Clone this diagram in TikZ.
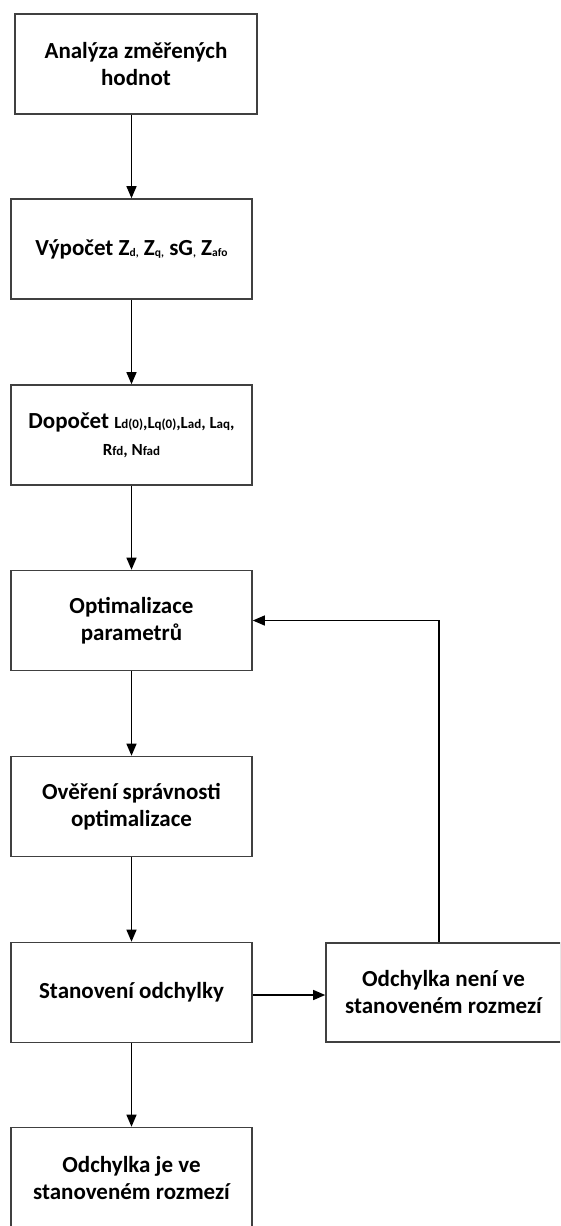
\documentclass[tikz,border=0pt]{standalone}
\usepackage{fontspec}
\setmainfont{Carlito}
\usetikzlibrary{arrows.meta}
\newcommand\sbs[1]{\raisebox{-1pt}{\fontsize{11.5}{11.5}\selectfont #1}}
\newcommand\ssbs[1]{\raisebox{-0.5pt}{\fontsize{13}{13}\selectfont #1}}
\begin{document}
\begin{tikzpicture}[x=1pt,y=-1pt,
  box/.style={draw=black!75, line width=1.6pt, minimum width=241pt, minimum height=100pt,
    align=center, inner sep=0pt, font=\fontsize{23}{27}\selectfont\bfseries},
  arr/.style={draw=black, line width=1.3pt, -{Triangle[length=12pt,width=10pt]}}]
\clip (0,0) rectangle (560,1226);
\useasboundingbox (0,0) rectangle (560,1226);
\node[box, minimum width=242pt] (b1) at (136,64) {Analýza změřených\\hodnot};
\node[box] (b2) at (131.5,249) {Výpočet Z\sbs{d,} Z\sbs{q,} sG\sbs{,} Z\sbs{afo}};
\node[box] (b3) at (131.5,435) {Dopočet {\fontsize{17}{27}\selectfont L\ssbs{d(0)},L\ssbs{q(0)},L\ssbs{ad}, L\ssbs{aq},}\\{\fontsize{17}{27}\selectfont R\ssbs{fd}, N\ssbs{fad}}};
\node[box] (b4) at (131.5,620.5) {Optimalizace\\parametrů};
\node[box] (b5) at (131.5,806.5) {Ověření správnosti\\optimalizace};
\node[box] (b6) at (131.5,992.5) {Stanovení odchylky};
\node[box] (b7) at (131.5,1177.5) {Odchylka je ve\\stanoveném rozmezí};
\node[box, minimum width=235pt, minimum height=99pt] (r) at (443.5,992.5) {Odchylka není ve\\stanoveném rozmezí};
\coordinate (fx) at (439,943);
\draw[arr] (b1.south -| b2.north) -- (b2.north);
\draw[arr] (b2) -- (b3);
\draw[arr] (b3) -- (b4);
\draw[arr] (b4) -- (b5);
\draw[arr] (b5) -- (b6);
\draw[arr] (b6) -- (b7);
\draw[arr] (b6.east) ++(0,2.5) -- (r.west |- 0,995);
\draw[arr] (r.north -| fx) |- (b4.east);
\end{tikzpicture}
\end{document}
